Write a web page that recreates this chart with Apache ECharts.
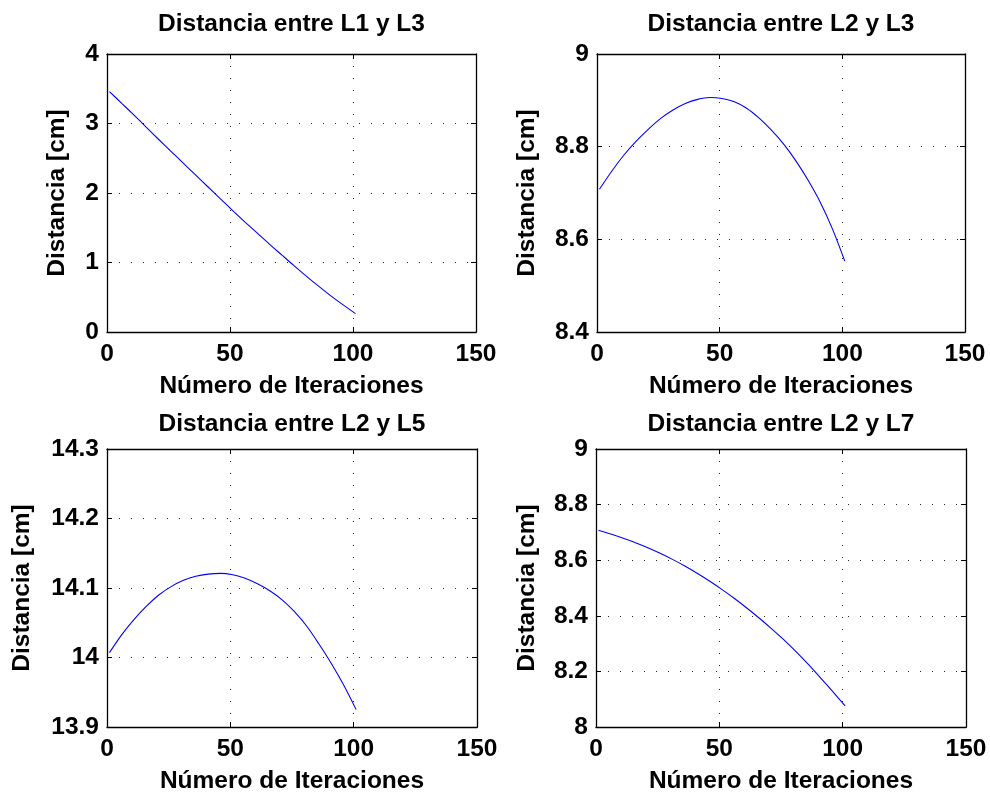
<!DOCTYPE html>
<html>
<head>
<meta charset="utf-8">
<script src="https://cdn.jsdelivr.net/npm/echarts@6/dist/echarts.min.js"></script>
<style>
html,body{margin:0;padding:0;background:#fff;}
#chart{width:990px;height:795px;}
</style>
</head>
<body>
<div id="chart"></div>
<script>
// ---- Data ----
const iterations = [1, 6, 11, 16, 21, 26, 31, 36, 41, 46, 51, 56, 61, 66, 71, 76, 81, 86, 91, 96, 101];
const distL1L3 = [3.46, 3.29, 3.12, 2.945, 2.77, 2.60, 2.43, 2.26, 2.09, 1.92, 1.75, 1.585, 1.425, 1.265, 1.11, 0.955, 0.805, 0.66, 0.52, 0.39, 0.265];
const distL2L3 = [8.708, 8.747, 8.782, 8.812, 8.838, 8.861, 8.879, 8.893, 8.902, 8.906, 8.904, 8.897, 8.883, 8.862, 8.836, 8.806, 8.770, 8.728, 8.680, 8.622, 8.553];
const distL2L5 = [14.007, 14.033, 14.055, 14.074, 14.090, 14.102, 14.111, 14.117, 14.120, 14.121, 14.119, 14.114, 14.106, 14.096, 14.083, 14.066, 14.045, 14.019, 13.991, 13.960, 13.925];
const distL2L7 = [8.708, 8.694, 8.679, 8.663, 8.645, 8.625, 8.603, 8.579, 8.553, 8.525, 8.495, 8.463, 8.429, 8.393, 8.355, 8.315, 8.272, 8.226, 8.177, 8.127, 8.076];

const xTicks = [0, 50, 100, 150];
const yTicksL1L3 = [0, 1, 2, 3, 4];
const yTicksL2L3 = [8.4, 8.6, 8.8, 9];
const yTicksL2L5 = [13.9, 14, 14.1, 14.2, 14.3];
const yTicksL2L7 = [8, 8.2, 8.4, 8.6, 8.8, 9];

const titles = ['Distancia entre L1 y L3', 'Distancia entre L2 y L3', 'Distancia entre L2 y L5', 'Distancia entre L2 y L7'];
const xLabel = 'Número de Iteraciones';
const yLabel = 'Distancia [cm]';

// ---- Layout ----
const FONT = '"Liberation Sans", Arial, Helvetica, sans-serif';
const panels = [
  {left: 107, top: 54, width: 369, height: 278, titleTop: 12, yGap: 37, ticks: yTicksL1L3, data: distL1L3},
  {left: 597, top: 54, width: 368, height: 278, titleTop: 12, yGap: 57, ticks: yTicksL2L3, data: distL2L3},
  {left: 107, top: 449, width: 370, height: 278, titleTop: 412, yGap: 72, ticks: yTicksL2L5, data: distL2L5},
  {left: 596, top: 449, width: 370, height: 278, titleTop: 412, yGap: 56, ticks: yTicksL2L7, data: distL2L7}
];

const textStyle = {fontFamily: FONT, fontWeight: 'bold', fontSize: 24.5, color: '#000'};
const fmt = v => String(+(+v).toFixed(2));

const grid = [], xAxis = [], yAxis = [], series = [], title = [];
panels.forEach((p, i) => {
  grid.push({left: p.left, top: p.top, width: p.width, height: p.height, containLabel: false});
  title.push({
    text: titles[i], left: p.left + p.width / 2, top: p.titleTop, textAlign: 'center', padding: 0,
    textStyle: Object.assign({}, textStyle, {lineHeight: 24})
  });
  const xInt = xTicks[1] - xTicks[0];
  const yInt = +(p.ticks[1] - p.ticks[0]).toFixed(4);
  const axisLine = {show: true, onZero: false, lineStyle: {color: '#000', width: 1.3}};
  const tick = {show: true, inside: true, length: 5, lineStyle: {color: '#000', width: 1}};
  const split = {show: true, lineStyle: {color: '#222', width: 1, type: [1, 11]}};
  xAxis.push({
    type: 'value', gridIndex: i, position: 'bottom', min: xTicks[0], max: xTicks[xTicks.length - 1], interval: xInt,
    axisLine, axisTick: tick, splitLine: split,
    axisLabel: Object.assign({margin: 10, formatter: fmt}, textStyle),
    name: xLabel, nameLocation: 'middle', nameGap: 42, nameTextStyle: Object.assign({}, textStyle)
  });
  xAxis.push({
    type: 'value', gridIndex: i, position: 'top', min: xTicks[0], max: xTicks[xTicks.length - 1], interval: xInt,
    axisLine, axisTick: tick, splitLine: {show: false}, axisLabel: {show: false}
  });
  yAxis.push({
    type: 'value', gridIndex: i, position: 'left', min: p.ticks[0], max: p.ticks[p.ticks.length - 1], interval: yInt,
    axisLine, axisTick: tick, splitLine: split,
    axisLabel: Object.assign({margin: 8, formatter: fmt}, textStyle),
    name: yLabel, nameLocation: 'middle', nameGap: p.yGap, nameRotate: 90, nameTextStyle: Object.assign({}, textStyle)
  });
  yAxis.push({
    type: 'value', gridIndex: i, position: 'right', min: p.ticks[0], max: p.ticks[p.ticks.length - 1], interval: yInt,
    axisLine, axisTick: tick, splitLine: {show: false}, axisLabel: {show: false}
  });
  series.push({
    type: 'line', xAxisIndex: 2 * i, yAxisIndex: 2 * i, showSymbol: false, smooth: 0.3,
    lineStyle: {color: '#0000ff', width: 1.1}, animation: false,
    data: iterations.map((x, k) => [x, p.data[k]])
  });
});

const chart = echarts.init(document.getElementById('chart'), null, {renderer: 'canvas'});
chart.setOption({backgroundColor: '#fff', animation: false, title, grid, xAxis, yAxis, series});
</script>
</body>
</html>
